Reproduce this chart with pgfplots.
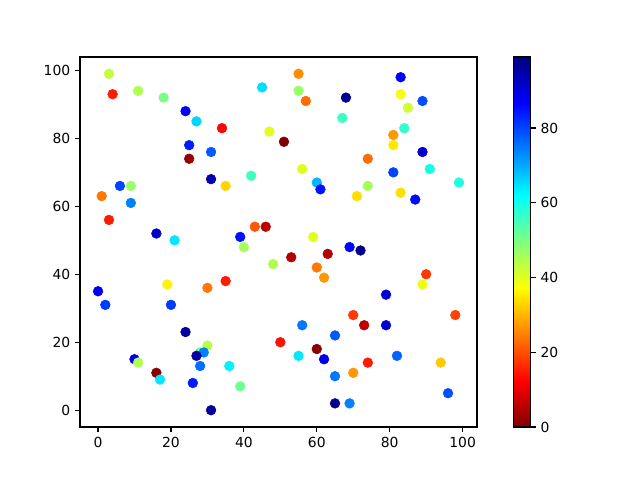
\documentclass[border=0pt]{standalone}
\usepackage{pgfplots}
\pgfplotsset{compat=1.18}
\usepackage{pgfplotstable}
\usepackage{fontspec}
\setmainfont{DejaVu Sans}
\pgfplotstableread{
x y c
3 99 43
4 93 15
11 94 45
18 92 50
24 88 87
27 85 66
34 83 13
25 78 84
25 74 2
31 76 78
47 82 40
6 66 80
9 66 47
1 63 24
9 61 74
3 56 15
16 52 92
21 50 64
31 68 94
35 66 33
42 69 56
39 51 85
43 54 21
46 54 6
40 48 46
55 99 26
55 94 47
57 91 23
68 92 97
83 98 87
83 93 38
89 91 79
85 89 42
67 86 56
84 83 57
81 81 27
81 78 35
51 79 0
89 76 91
74 74 23
56 71 40
81 70 80
91 71 60
60 67 69
61 65 85
74 66 46
99 67 59
71 63 34
83 64 34
87 62 86
59 51 40
69 48 86
53 45 5
63 46 5
72 47 98
60 42 24
62 39 27
90 40 18
89 37 39
79 34 91
70 28 18
73 25 6
79 25 91
98 28 19
56 25 75
65 22 78
50 20 14
60 18 1
55 16 64
62 15 89
74 14 15
82 16 77
94 14 32
65 10 75
70 11 27
96 5 79
65 2 98
69 2 74
0 35 88
2 31 81
19 37 36
30 36 24
35 38 15
20 31 81
24 23 96
10 15 89
11 14 45
30 19 44
28 17 52
29 17 74
27 16 96
28 13 76
16 11 1
17 9 64
36 13 63
26 8 84
39 7 51
31 0 96
48 43 45
45 95 65
}\pts
\begin{document}
\begin{tikzpicture}
\useasboundingbox (0,0) rectangle (460.8pt,345.6pt);
\begin{axis}[
  at={(57.6pt,38.16pt)}, anchor=south west,
  scale only axis, width=285.84pt, height=266.4pt,
  xmin=-4.95, xmax=103.95, ymin=-4.95, ymax=103.95,
  xtick={0,20,40,60,80,100}, ytick={0,20,40,60,80,100},
  tick align=outside, major tick length=3.5pt,
  xtick pos=bottom, ytick pos=left,
  axis line style={line width=0.8pt}, every tick/.style={line width=0.8pt, black},
  tick label style={font=\fontsize{10}{12}\selectfont},
  /pgf/number format/assume math mode=true,
  colormap={jetr}{rgb255(0cm)=(128,0,0) rgb255(1cm)=(255,0,0) rgb255(3cm)=(255,255,0) rgb255(5cm)=(0,255,255) rgb255(7cm)=(0,0,255) rgb255(8cm)=(0,0,128)},
  point meta min=0, point meta max=99,
  colorbar,
  colorbar style={
    at={(parent axis.north east)}, anchor=north west, xshift=18pt,
    width=12.24pt, height=266.4pt,
    ytick={0,20,40,60,80}, ytick pos=right, yticklabel pos=right,
    tick align=outside, major tick length=3.5pt,
    axis line style={line width=0.8pt},
    every tick/.style={line width=0.8pt, black},
    tick label style={font=\fontsize{10}{12}\selectfont},
    /pgf/number format/assume math mode=true,
  },
]
\addplot[scatter, only marks, mark=*, mark size=3.5pt, scatter src=explicit,
  scatter/use mapped color={draw=mapped color, fill=mapped color}]
  table[x=x, y=y, meta=c] {\pts};
\end{axis}
\end{tikzpicture}
\end{document}
